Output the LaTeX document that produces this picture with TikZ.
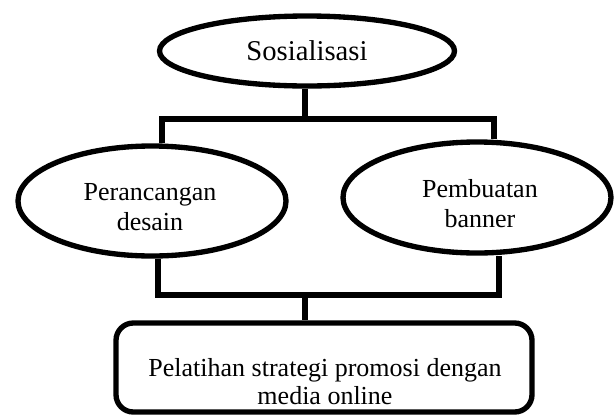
\documentclass[tikz,border=0pt]{standalone}
\usepackage{fontspec}
\setmainfont{Liberation Serif}
\usetikzlibrary{shapes.geometric}
\begin{document}
\begin{tikzpicture}[x=0.75pt,y=-0.75pt,
  lw/.style={line width=4pt},
  ell/.style={draw,lw,ellipse,inner sep=0pt,align=center,
    font=\fontsize{19.5}{22.5}\selectfont},
  conn/.style={lw,line join=miter},
  txt/.style={font=\fontsize{19.5}{22.5}\selectfont,align=center,inner sep=0pt},
  boxnode/.style={draw,lw,rounded corners=13pt,inner sep=0pt}]
\useasboundingbox (0,0) rectangle (614,415);
\node[ell,minimum width=295*0.75pt,minimum height=70*0.75pt,
  font=\fontsize{21.5}{23}\selectfont] (top) at (307,51) {Sosialisasi};
\node[ell,minimum width=268*0.75pt,minimum height=110*0.75pt] (left) at (152,201) {};
\node[ell,minimum width=268*0.75pt,minimum height=111*0.75pt] (right) at (477,197.5) {};
\node[txt] (lt) at (150,207) {Perancangan\\desain};
\node[txt] (rt) at (480,204) {Pembuatan\\banner};
\node[boxnode,minimum width=416*0.75pt,minimum height=89*0.75pt] (box) at (324,367.5) {};
\node[txt,font=\fontsize{19.5}{21}\selectfont] (bt) at (325,382) {Pelatihan strategi promosi dengan\\media online};
\coordinate (ul) at (162,119);
\coordinate (ur) at (494,119);
\coordinate (ll) at (158,295);
\coordinate (lr) at (499,295);
\coordinate (lm) at (305,295);
\draw[conn] (top.south -| 305,0) -- (305,119);
\draw[conn] (left.north -| ul) -- (ul) -- (ur) -- (right.north -| ur);
\draw[conn] (left.south -| ll) -- (ll) -- (lr) -- (right.south -| lr);
\draw[conn] (lm) -- (box.north -| lm);
\end{tikzpicture}
\end{document}
